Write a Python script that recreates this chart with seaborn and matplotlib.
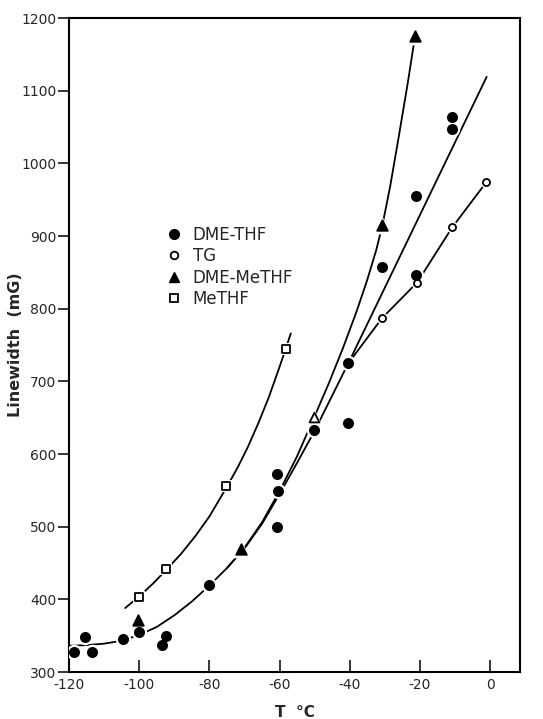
import matplotlib
matplotlib.use("Agg")
import matplotlib.pyplot as plt
import seaborn as sns
import pandas as pd
from matplotlib.lines import Line2D

# ---------------- data ----------------
dme_thf_T = [-118.5, -115.4, -113.5, -104.5, -100.1, -93.5, -92.4, -80.2,
             -60.7, -60.4, -60.7, -50.2, -40.4, -40.4, -30.8, -21.0, -21.0,
             -10.8, -10.8]
dme_thf_W = [327, 348, 327, 346, 355, 337, 349, 420,
             572, 549, 500, 633, 725, 642, 857, 955, 846,
             1064, 1047]

tg_T = [-30.8, -20.8, -10.8, -1.1]
tg_W = [787, 836, 912, 974]

dme_methf_T = [-100.2, -71.1, -30.7, -21.4]
dme_methf_W = [371, 469, 915, 1175]

dme_methf_open_T = [-50.1]
dme_methf_open_W = [651]

methf_T = [-100.1, -92.3, -75.2, -58.3]
methf_W = [403, 442, 556, 745]

# hand-drawn curves at several temperatures
curve_dme_thf_T = [-120, -115, -110, -105, -100, -95, -90, -85, -80, -75,
                   -70, -65, -60, -55, -50, -40, -1]
curve_dme_thf_W = [336, 337, 339, 343, 351, 362, 378, 397, 419, 443,
                   470, 504, 545, 588, 632, 729, 1119]

curve_tg_T = [-40.4, -30.8, -20.8, -10.8, -1.1]
curve_tg_W = [725, 787, 836, 912, 974]

curve_dme_methf_T = [-75, -70, -65, -60, -55, -50.1, -46, -42, -38, -35,
                     -32.5, -30.7, -28.5, -26, -23.5, -21.4]
curve_dme_methf_W = [443, 471, 506, 549, 597, 651, 697, 745, 797, 840,
                     880, 915, 968, 1038, 1110, 1175]

curve_methf_T = [-104, -100, -96, -92, -88, -84, -80, -75, -72, -69, -66,
                 -63, -60, -58.3, -56.8]
curve_methf_W = [388, 404, 422, 442, 463, 487, 514, 555, 581, 610, 643,
                 679, 720, 744, 766]

x_ticks = [-120, -100, -80, -60, -40, -20, 0]
x_tick_labels = ["-120", "-100", "-80", "-60", "-40", "-20", "0"]
y_ticks = [300, 400, 500, 600, 700, 800, 900, 1000, 1100, 1200]
y_tick_labels = ["300", "400", "500", "600", "700", "800", "900", "1000", "1100", "1200"]

# ---------------- drawing ----------------
sns.set_style("ticks")
plt.rcParams["font.family"] = ["DejaVu Sans"]
plt.rcParams["axes.unicode_minus"] = False

fig = plt.figure(figsize=(5.43, 7.19), dpi=100)
ax = fig.add_axes([69 / 543, 1 - 672 / 719, (520 - 69) / 543, (672 - 18) / 719])

lw = 1.3
for T, W in [(curve_dme_thf_T, curve_dme_thf_W), (curve_tg_T, curve_tg_W),
             (curve_dme_methf_T, curve_dme_methf_W), (curve_methf_T, curve_methf_W)]:
    sns.lineplot(x=T, y=W, sort=False, estimator=None, color="black",
                 lw=lw, ax=ax, zorder=2)

series = [
    (dme_thf_T, dme_thf_W, "o", 44, "black", "DME-THF"),
    (tg_T, tg_W, "o", 26, "white", "TG"),
    (dme_methf_T, dme_methf_W, "^", 58, "black", "DME-MeTHF"),
    (methf_T, methf_W, "s", 28, "white", "MeTHF"),
    (dme_methf_open_T, dme_methf_open_W, "^", 50, "white", None),
]

# white halos that break the curves around each marker
for T, W, m, s, fc, lab in series:
    sns.scatterplot(x=T, y=W, marker=m, s=s * 2.8, color="white",
                    edgecolor="white", linewidth=0, ax=ax, zorder=3, legend=False)
for T, W, m, s, fc, lab in series:
    sns.scatterplot(x=T, y=W, marker=m, s=s, color=fc, edgecolor="black",
                    linewidth=1.3, ax=ax, zorder=4, legend=False)

ax.set_xlim(-120, 8.5)
ax.set_ylim(300, 1200)
ax.set_xticks(x_ticks)
ax.set_xticklabels(x_tick_labels)
ax.set_yticks(y_ticks)
ax.set_yticklabels(y_tick_labels)
ax.tick_params(axis="x", direction="in", length=9, width=1.3, labelsize=10, pad=4)
ax.tick_params(axis="y", direction="out", length=8, width=1.3, labelsize=10, pad=1)
for sp in ax.spines.values():
    sp.set_visible(True)
    sp.set_linewidth(1.5)
    sp.set_color("black")

ax.set_xlabel("T  °C", fontsize=11, fontweight="bold")
ax.set_ylabel("Linewidth  (mG)", fontsize=11.5, fontweight="bold")
ax.xaxis.set_label_coords(0.5, -0.05)
ax.yaxis.set_label_coords(-0.103, 0.5)

handles = [
    Line2D([], [], ls="none", marker="o", ms=7, mfc="black", mec="black"),
    Line2D([], [], ls="none", marker="o", ms=5.5, mfc="white", mec="black", mew=1.3),
    Line2D([], [], ls="none", marker="^", ms=7.5, mfc="black", mec="black"),
    Line2D([], [], ls="none", marker="s", ms=5.5, mfc="white", mec="black", mew=1.3),
]
labels = ["DME-THF", "TG", "DME-MeTHF", "MeTHF"]
leg = ax.legend(handles, labels, loc="upper left", bbox_to_anchor=(0.215, 0.682),
                frameon=False, fontsize=12, handlelength=1.0, handletextpad=0.6,
                labelspacing=0.2, borderpad=0, borderaxespad=0)

fig.savefig("out.png", dpi=100)
